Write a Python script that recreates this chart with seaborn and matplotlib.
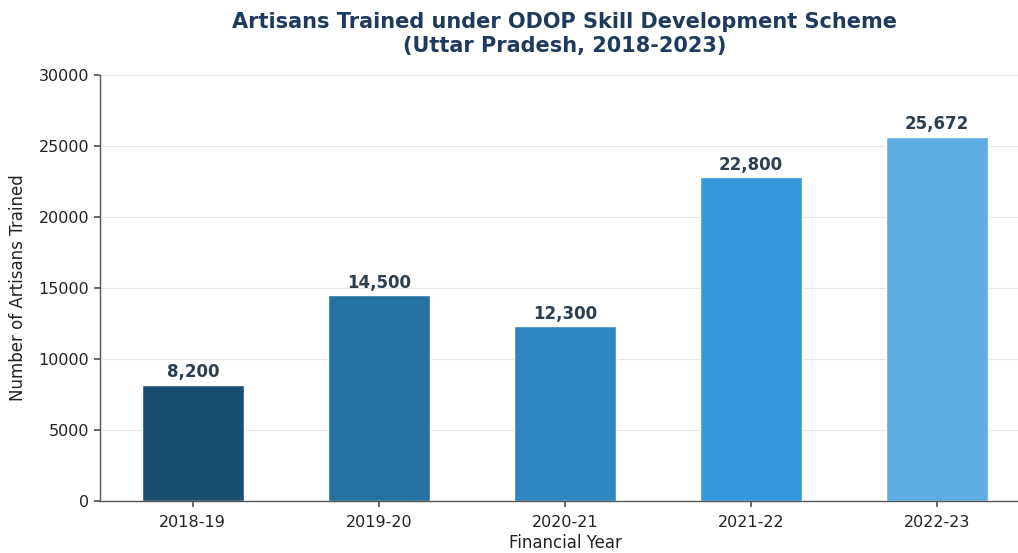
import matplotlib
matplotlib.use("Agg")
import matplotlib.pyplot as plt
import seaborn as sns
import pandas as pd

years = ["2018-19", "2019-20", "2020-21", "2021-22", "2022-23"]
artisans = [8200, 14500, 12300, 22800, 25672]
bar_colors = ["#1b4f72", "#2471a3", "#2e86c1", "#3498db", "#5dade2"]

sns.set_theme(style="white")
plt.rcParams["font.family"] = ["DejaVu Sans"]

df = pd.DataFrame({"Financial Year": years, "Artisans": artisans})

fig, ax = plt.subplots(figsize=(10.18, 5.53), dpi=100)
sns.barplot(data=df, x="Financial Year", y="Artisans", hue="Financial Year",
            palette=bar_colors, legend=False, width=0.55, ax=ax, saturation=1)

ax.set_xlim(-0.5, 4.5)
ax.set_ylim(0, 30000)
ax.set_yticks(range(0, 30001, 5000))
ax.yaxis.grid(True, color="#e6e6e6", linewidth=0.8)
ax.set_axisbelow(True)
for s in ["top", "right"]:
    ax.spines[s].set_visible(False)
for s in ["left", "bottom"]:
    ax.spines[s].set_color("#555555")
    ax.spines[s].set_linewidth(1.0)
ax.tick_params(axis="both", which="both", length=4, color="#555555",
               labelsize=11.5, labelcolor="#222222", left=True, bottom=True)
ax.tick_params(axis="x", pad=6)

for i, v in enumerate(artisans):
    ax.text(i, v + 250, f"{v:,}", ha="center", va="bottom",
            fontsize=12, fontweight="bold", color="#2c3e50")

ax.set_xlabel("Financial Year", fontsize=12, color="#222222", labelpad=3)
ax.set_ylabel("Number of Artisans Trained", fontsize=12, color="#222222", labelpad=8)
ax.set_title("Artisans Trained under ODOP Skill Development Scheme\n(Uttar Pradesh, 2018-2023)",
             fontsize=15, fontweight="bold", color="#1f3a5f", pad=17)

fig.subplots_adjust(left=0.098, right=1.012, top=0.864, bottom=0.094)
fig.savefig("out.png", dpi=100)
